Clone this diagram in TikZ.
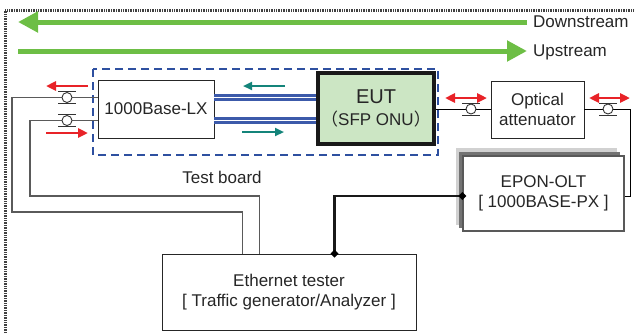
\documentclass[tikz,border=0pt]{standalone}
\usepackage{fontspec}
\setmainfont{Liberation Sans}
\newfontfamily\cjkfont{Noto Sans CJK JP}
\usetikzlibrary{arrows.meta,calc}
\definecolor{grn}{RGB}{109,190,69}
\definecolor{tbblue}{RGB}{46,80,160}
\definecolor{fibblue}{RGB}{60,90,170}
\definecolor{rd}{RGB}{232,35,40}
\definecolor{tl}{RGB}{20,132,122}
\definecolor{eutfill}{RGB}{204,230,196}
\definecolor{lgray}{RGB}{90,90,90}
\tikzset{
  txt/.style={font=\fontsize{17}{20.5}\selectfont, text=black!85, align=center, inner sep=0pt},
  box/.style={draw=black!85, line width=0.9pt, fill=white, txt},
  fiber/.style={draw=lgray, line width=1.2pt},
  optline/.style={draw=black, line width=1pt},
  bigarrow/.style={draw=grn, line width=5pt, -{Triangle[length=20pt,width=20pt]}},
  redarrow/.style={draw=rd, line width=2.5pt, -{Triangle[length=10pt,width=9pt]}},
  redboth/.style={draw=rd, line width=2.5pt, {Triangle[length=10pt,width=9pt]}-{Triangle[length=10pt,width=9pt]}},
  tealarrow/.style={draw=tl, line width=2.2pt, -{Triangle[length=9pt,width=8pt]}},
  bluepair/.style={draw=fibblue, line width=2.4pt, double=white, double distance=1.6pt},
  conn/.pic={
    \fill[white] (0,0) circle (5);
    \draw[black!80, line width=0.9pt] (0,0) circle (5);
    \draw[black!80, line width=0.9pt] (-9,-6) -- (9,-6) (-9,6) -- (9,6);
  }
}
\begin{document}
\begin{tikzpicture}[x=1pt,y=-1pt]
\useasboundingbox (0,0) rectangle (635,333);
% outer frame (top and left)
\draw[line width=3pt, draw=black!75, dash pattern=on 1pt off 0.7pt] (5,333) -- (5,10.5) -- (635,10.5);
% stream arrows
\draw[bigarrow] (527,22) -- (18,22);
\draw[bigarrow] (18,51) -- (527,51);
\node[txt, anchor=west] (down) at (533,22) {Downstream};
\node[txt, anchor=west] (up) at (533,52) {Upstream};
% test board
\draw[draw=tbblue, line width=2.5pt, dash pattern=on 8pt off 5pt] (93,69) rectangle (438,155);
\node[txt] (tb) at (222,177) {Test board};
% boxes
\node[box, minimum width=116pt, minimum height=58pt] (lx) at (156,109) {1000Base-LX};
\node[txt, draw=black!90, line width=4pt, fill=eutfill, minimum width=116pt, minimum height=71pt] (eut) at (376,108.5)
  {{\fontsize{20}{22}\selectfont EUT}\\[1pt]{\cjkfont （}SFP ONU{\cjkfont ）}};
\node[box, minimum width=93pt, minimum height=57pt] (att) at (537.5,109.5) {Optical\\attenuator};
% OLT with shadow
\fill[black!18] (456,148) rectangle (617,225);
\fill[black!55] (459,152) rectangle (620,228);
\node[box, draw=black!65, line width=1.4pt, minimum width=161pt, minimum height=75pt] (olt) at (543.5,193.5) {EPON-OLT\\{[} 1000BASE-PX {]}};
\node[box, minimum width=254pt, minimum height=76pt] (eth) at (289,292) {Ethernet tester\\{[} Traffic generator/Analyzer {]}};
% left fibers
\coordinate (lxa) at (lx.west |- 0,97.5);
\coordinate (lxb) at (lx.west |- 0,120.5);
\draw[fiber] (lxa) -| (12,212) -| ($(eth.north west)+(81,0)$);
\draw[fiber] (lxb) -| (30,196) -| ($(eth.north west)+(98,0)$);
\pic at (67,97.5) {conn};
\pic at (67,120.5) {conn};
\draw[redarrow] (88,86) -- (46,86);
\draw[redarrow] (46,133) -- (88,133);
% blue pairs
\draw[bluepair] (lx.east |- 0,97.5) -- (eut.west |- 0,97.5);
\draw[bluepair] (lx.east |- 0,120.5) -- (eut.west |- 0,120.5);
\draw[tealarrow] (285,86) -- (243,86);
\draw[tealarrow] (242,132) -- (284,132);
% right optics
\draw[optline] (eut.east |- 0,109) -- (att.west |- 0,109);
\pic at (471,109) {conn};
\draw[optline] (att.east |- 0,109) -| (630,196) -- (olt.east |- 0,196);
\pic at (608,109) {conn};
\draw[redboth] (445,98) -- (487,98);
\draw[redboth] (589,98) -- (630,98);
% ethernet link
\coordinate (oltw) at (olt.west |- 0,196);
\coordinate (ethn) at ($(eth.north west)+(173,0)$);
\draw[line width=2.5pt, black!90] (oltw) -| (ethn);
\fill[black] ($(oltw)+(-4,0)$) -- ++(4,-4) -- ++(4,4) -- ++(-4,4) -- cycle;
\fill[black] ($(ethn)+(-4,0)$) -- ++(4,-4) -- ++(4,4) -- ++(-4,4) -- cycle;
\end{tikzpicture}
\end{document}
